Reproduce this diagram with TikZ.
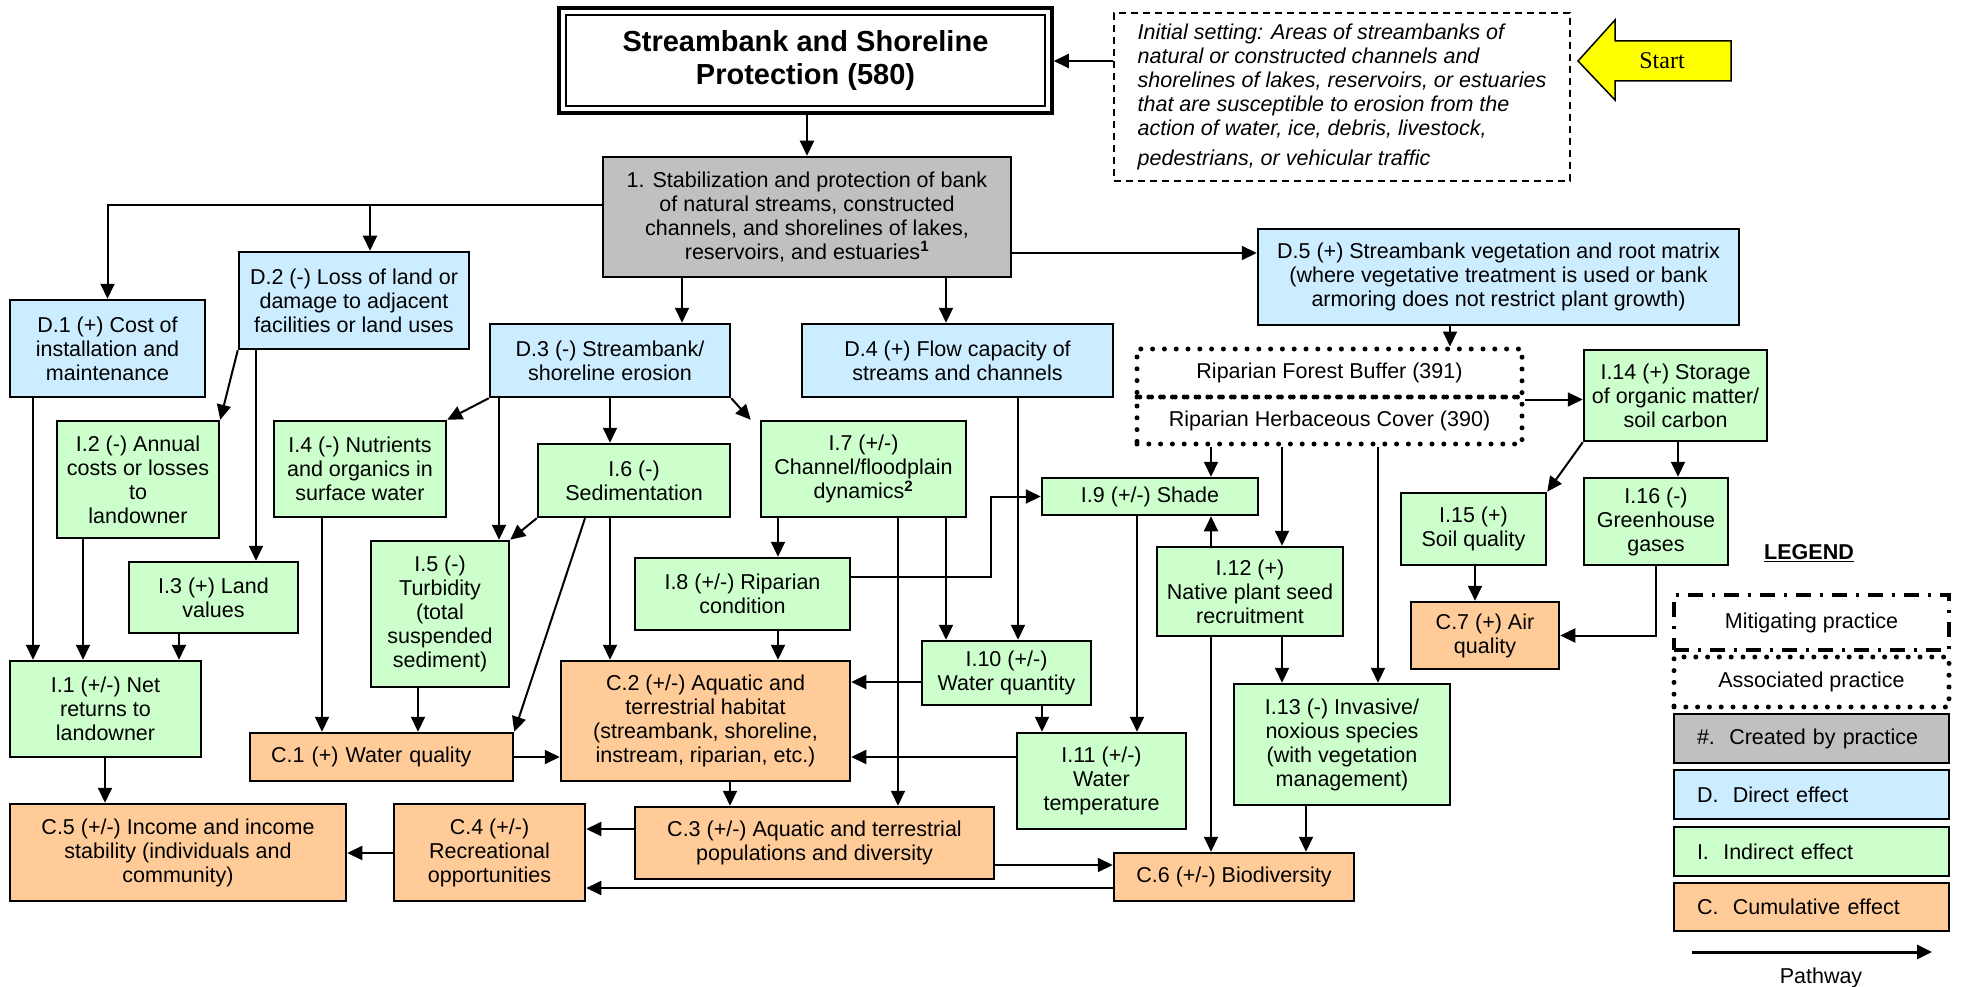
\documentclass[tikz,border=0pt]{standalone}
\usepackage{fontspec}
\setmainfont{Liberation Sans}
\newfontfamily\startfont{Liberation Serif}
\usetikzlibrary{arrows.meta}
\definecolor{cblue}{HTML}{CCECFF}
\definecolor{cgreen}{HTML}{CCFFCC}
\definecolor{corange}{HTML}{FFCC99}
\definecolor{cgray}{HTML}{C0C0C0}
\definecolor{cyellow}{HTML}{FFFF00}
\newcommand\nfont{\fontsize{21.5pt}{24pt}\selectfont}
\newcommand\mkbox[7]{\node[#2,minimum width={(#5-#3)*1pt},minimum height={(#6-#4)*1pt}] (#1) at ({(#3+#5)/2},{(#4+#6)/2}) {#7};}
\tikzset{
  box/.style={draw, line width=2.5pt, align=center, inner sep=0pt, font=\nfont},
  dbox/.style={box, fill=cblue},
  ibox/.style={box, fill=cgreen},
  cbox/.style={box, fill=corange},
  gbox/.style={box, fill=cgray},
  ripdot/.style={draw, line width=5pt, line cap=round, dash pattern=on 0pt off 11.8pt, align=center, inner sep=0pt, font=\nfont},
  arr/.style={-{Triangle[length=15pt,width=14pt]}, line width=2pt},
}
\begin{document}
\begin{tikzpicture}[x=1pt,y=-1pt]
\useasboundingbox (0,0) rectangle (1979,987);
% title
\mkbox{title}{box,line width=3.5pt,font=\fontsize{29pt}{33pt}\selectfont\bfseries}{559}{8}{1052}{113}{Streambank and Shoreline\\Protection (580)}
\draw[line width=2pt] ([shift={(8.5,8.5)}]title.north west) rectangle ([shift={(-8.5,-8.5)}]title.south east);
% initial setting
\mkbox{init}{box,line width=2pt,dash pattern=on 7pt off 5pt,align=left,font=\nfont\itshape}{1114}{13}{1570}{181}{Initial setting: Areas of streambanks of\\natural or constructed channels and\\shorelines of lakes, reservoirs, or estuaries\\that are susceptible to erosion from the\\action of water, ice, debris, livestock,\\[6pt]pedestrians, or vehicular traffic}
% start arrow
\draw[fill=cyellow, line width=1.5pt] (1578,61) -- (1615,20) -- (1615,41) -- (1731,41) -- (1731,81) -- (1615,81) -- (1615,100) -- cycle;
\node[font=\startfont\fontsize{24pt}{26pt}\selectfont] (start) at (1662,61) {Start};
% box 1
\mkbox{b1}{gbox}{603}{157}{1011}{277}{1. Stabilization and protection of bank\\of natural streams, constructed\\channels, and shorelines of lakes,\\reservoirs, and estuaries\textsuperscript{\bfseries 1}}
% direct
\mkbox{d1}{dbox}{10}{300}{205}{397}{D.1 (+) Cost of\\installation and\\maintenance}
\mkbox{d2}{dbox}{239}{252}{469}{349}{D.2 (-) Loss of land or\\damage to adjacent\\facilities or land uses}
\mkbox{d3}{dbox}{490}{324}{730}{397}{D.3 (-) Streambank/\\shoreline erosion}
\mkbox{d4}{dbox}{802}{324}{1113}{397}{D.4 (+) Flow capacity of\\streams and channels}
\mkbox{d5}{dbox}{1258}{229}{1739}{325}{D.5 (+) Streambank vegetation and root matrix\\(where vegetative treatment is used or bank\\armoring does not restrict plant growth)}
% riparian
\mkbox{ripf}{ripdot}{1137}{349}{1522}{397}{Riparian Forest Buffer (391)}
\mkbox{riph}{ripdot}{1137}{397}{1522}{444}{Riparian Herbaceous Cover (390)}
% indirect
\mkbox{i1}{ibox}{10}{661}{201}{757}{I.1 (+/-) Net\\returns to\\landowner}
\mkbox{i2}{ibox}{57}{421}{219}{538}{I.2 (-) Annual\\costs or losses\\to\\landowner}
\mkbox{i3}{ibox}{129}{562}{298}{633}{I.3 (+) Land\\values}
\mkbox{i4}{ibox}{274}{421}{446}{517}{I.4 (-) Nutrients\\and organics in\\surface water}
\mkbox{i5}{ibox}{371}{541}{509}{687}{I.5 (-)\\Turbidity\\(total\\suspended\\sediment)}
\mkbox{i6}{ibox}{538}{444}{730}{517}{I.6 (-)\\Sedimentation}
\mkbox{i7}{ibox}{761}{421}{966}{517}{I.7 (+/-)\\Channel/floodplain\\dynamics\textsuperscript{\bfseries 2}}
\mkbox{i8}{ibox}{635}{558}{850}{630}{I.8 (+/-) Riparian\\condition}
\mkbox{i9}{ibox}{1042}{478}{1258}{515}{I.9 (+/-) Shade}
\mkbox{i10}{ibox}{922}{641}{1091}{705}{I.10 (+/-)\\Water quantity}
\mkbox{i11}{ibox}{1017}{733}{1186}{829}{I.11 (+/-)\\Water\\temperature}
\mkbox{i12}{ibox}{1157}{547}{1343}{636}{I.12 (+)\\Native plant seed\\recruitment}
\mkbox{i13}{ibox}{1234}{684}{1450}{805}{I.13 (-) Invasive/\\noxious species\\(with vegetation\\management)}
\mkbox{i14}{ibox}{1584}{350}{1767}{441}{I.14 (+) Storage\\of organic matter/\\soil carbon}
\mkbox{i15}{ibox}{1401}{493}{1546}{565}{I.15 (+)\\Soil quality}
\mkbox{i16}{ibox}{1584}{478}{1728}{565}{I.16 (-)\\Greenhouse\\gases}
% cumulative
\mkbox{c1}{cbox,align=left,text width=221pt}{250}{733}{513}{781}{C.1 (+) Water quality}
\mkbox{c2}{cbox}{561}{661}{850}{781}{C.2 (+/-) Aquatic and\\terrestrial habitat\\(streambank, shoreline,\\instream, riparian, etc.)}
\mkbox{c3}{cbox}{635}{807}{994}{879}{C.3 (+/-) Aquatic and terrestrial\\populations and diversity}
\mkbox{c4}{cbox}{394}{804}{585}{901}{C.4 (+/-)\\Recreational\\opportunities}
\mkbox{c5}{cbox}{10}{804}{346}{901}{C.5 (+/-) Income and income\\stability (individuals and\\community)}
\mkbox{c6}{cbox}{1114}{853}{1354}{901}{C.6 (+/-) Biodiversity}
\mkbox{c7}{cbox}{1411}{602}{1559}{669}{C.7 (+) Air\\quality}
% legend
\node[font=\nfont\bfseries] (legt) at (1809,553) {\underline{LEGEND}};
\mkbox{lgm}{box,line width=3.5pt,dash pattern=on 15pt off 9pt on 3pt off 9pt}{1674}{595}{1949}{650}{Mitigating practice}
\mkbox{lga}{ripdot}{1674}{657}{1949}{707}{Associated practice}
\mkbox{lgc}{gbox,align=left,text width=229pt}{1674}{714}{1949}{763}{\#.\ \ Created by practice}
\mkbox{lgd}{dbox,align=left,text width=229pt}{1674}{770}{1949}{819}{D.\ \ Direct effect}
\mkbox{lgi}{ibox,align=left,text width=229pt}{1674}{827}{1949}{876}{I.\ \ Indirect effect}
\mkbox{lgu}{cbox,align=left,text width=229pt}{1674}{883}{1949}{931}{C.\ \ Cumulative effect}
\coordinate (pa) at (1692,952);
\coordinate (pb) at (1932,952);
\draw[arr,line width=3pt] (pa) -- (pb);
\node[font=\nfont] (pw) at (1821,978) {Pathway};
% connectors
\coordinate (j1) at (370,205);
\draw[arr] (init.west |- 0,61) -- (title.east |- 0,61);
\draw[arr] (title.south -| b1.north) -- (b1.north);
\draw[arr] (b1.west |- 0,205) -| (d1.north);
\draw[arr] (j1) -- (j1 |- d2.north);
\draw[arr] (b1.south -| 682,0) -- (d3.north -| 682,0);
\draw[arr] (b1.south -| 946,0) -- (d4.north -| 946,0);
\draw[arr] (b1.east |- 0,253) -- (d5.west |- 0,253);
\draw[arr] (d1.south -| 33,0) -- (i1.north -| 33,0);
\draw[arr] (d2.south west) -- (i2.north east);
\draw[arr] (d2.south -| 256,0) -- (i3.north -| 256,0);
\draw[arr] (i2.south -| 83,0) -- (i1.north -| 83,0);
\draw[arr] (i3.south -| 179,0) -- (i1.north -| 179,0);
\draw[arr] (d3.south west) -- (i4.north east);
\draw[arr] (d3.south -| 499,0) -- (i5.north -| 499,0);
\draw[arr] (d3.south -| 610,0) -- (i6.north -| 610,0);
\draw[arr] (d3.south east) -- ([xshift=-9pt]i7.north west);
\draw[arr] (i4.south -| 322,0) -- (c1.north -| 322,0);
\draw[arr] (i6.south west) -- (i5.north east);
\draw[arr] (i6.south -| 585,0) -- (c1.north east);
\draw[arr] (i6.south -| 610,0) -- (c2.north -| 610,0);
\draw[arr] (i5.south -| 418,0) -- (c1.north -| 418,0);
\draw[arr] (c1.east) -- (c1.east -| c2.west);
\draw[arr] (i7.south -| 778,0) -- (i8.north -| 778,0);
\draw[arr] (i7.south -| 898,0) -- (c3.north -| 898,0);
\draw[arr] (i7.south -| 946,0) -- (i10.north -| 946,0);
\draw[arr] (i8.south -| 778,0) -- (c2.north -| 778,0);
\draw[arr] (i8.east |- 0,577) -- ++(140,0) |- (i9.west);
\draw[arr] (i10.west |- 0,682) -- (c2.east |- 0,682);
\draw[arr] (i11.west |- 0,757) -- (c2.east |- 0,757);
\draw[arr] (c2.south -| 730,0) -- (c3.north -| 730,0);
\draw[arr] (i1.south -| 105,0) -- (c5.north -| 105,0);
\draw[arr] (c3.west |- 0,829) -- (c4.east |- 0,829);
\draw[arr] (c4.west |- 0,853) -- (c5.east |- 0,853);
\draw[arr] (c3.east |- 0,865) -- (c6.west |- 0,865);
\draw[arr] (c6.west |- 0,888) -- (c4.east |- 0,888);
\draw[arr] (d4.south -| 1018,0) -- (i10.north -| 1018,0);
\draw[arr] (d5.south -| 1450,0) -- (ripf.north -| 1450,0);
\draw[arr] (ripf.south east) -- (i14.west |- ripf.south east);
\draw[arr] (riph.south -| 1211,0) -- (i9.north -| 1211,0);
\draw[arr] (riph.south -| 1282,0) -- (i12.north -| 1282,0);
\draw[arr] (riph.south -| 1378,0) -- (i13.north -| 1378,0);
\draw[arr] (i9.south -| 1137,0) -- (i11.north -| 1137,0);
\draw[arr] (i12.north -| 1211,0) -- (i9.south -| 1211,0);
\draw[arr] (i12.south -| 1211,0) -- (c6.north -| 1211,0);
\draw[arr] (i12.south -| 1282,0) -- (i13.north -| 1282,0);
\draw[arr] (i13.south -| 1306,0) -- (c6.north -| 1306,0);
\draw[arr] (i10.south -| 1042,0) -- (i11.north -| 1042,0);
\draw[arr] (i14.south west) -- (i15.north east);
\draw[arr] (i14.south -| 1678,0) -- (i16.north -| 1678,0);
\draw[arr] (i15.south -| 1475,0) -- (c7.north -| 1475,0);
\draw[arr] (i16.south -| 1656,0) |- (c7.east);
\end{tikzpicture}
\end{document}
